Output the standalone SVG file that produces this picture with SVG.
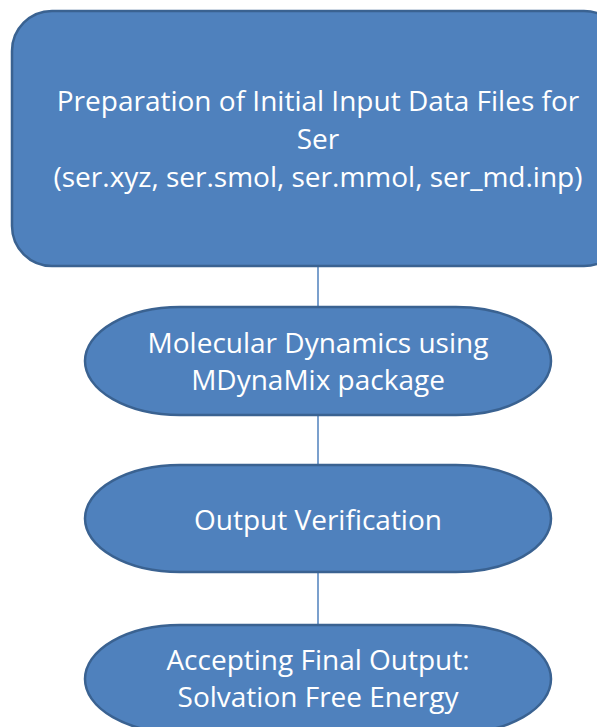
<svg xmlns="http://www.w3.org/2000/svg" width="597" height="727" viewBox="0 0 597 727">
  <style>
    .box { fill: #4F81BD; stroke: #3A6291; stroke-width: 2.5; }
    .label { fill: #FFFFFF; font-family: "Open Sans", "Liberation Sans", sans-serif; font-size: 28px; text-anchor: middle; }
    .link { stroke: #4F81BD; stroke-width: 1.5; fill: none; }
  </style>
  <rect width="597" height="727" fill="#FFFFFF"/>

  <g id="connectors">
    <line class="link" x1="318" y1="266" x2="318" y2="307"/>
    <line class="link" x1="318" y1="415" x2="318" y2="465"/>
    <line class="link" x1="318" y1="572" x2="318" y2="625"/>
  </g>

  <g id="prepare-input">
    <rect class="box" x="12" y="11" width="612" height="255" rx="40" ry="40"/>
    <text class="label" x="318" y="111">Preparation of Initial Input Data Files for</text>
    <text class="label" x="318" y="149">Ser</text>
    <text class="label" x="318" y="187">(ser.xyz, ser.smol, ser.mmol, ser_md.inp)</text>
  </g>

  <g id="molecular-dynamics">
    <rect class="box" x="85" y="307" width="466" height="108" rx="95" ry="54"/>
    <text class="label" x="318" y="353">Molecular Dynamics using</text>
    <text class="label" x="318" y="390">MDynaMix package</text>
  </g>

  <g id="output-verification">
    <rect class="box" x="85" y="465" width="466" height="107" rx="95" ry="53.5"/>
    <text class="label" x="318" y="530">Output Verification</text>
  </g>

  <g id="accept-output">
    <rect class="box" x="85" y="625" width="466" height="108" rx="95" ry="54"/>
    <text class="label" x="318" y="670">Accepting Final Output:</text>
    <text class="label" x="318" y="707">Solvation Free Energy</text>
  </g>
</svg>
